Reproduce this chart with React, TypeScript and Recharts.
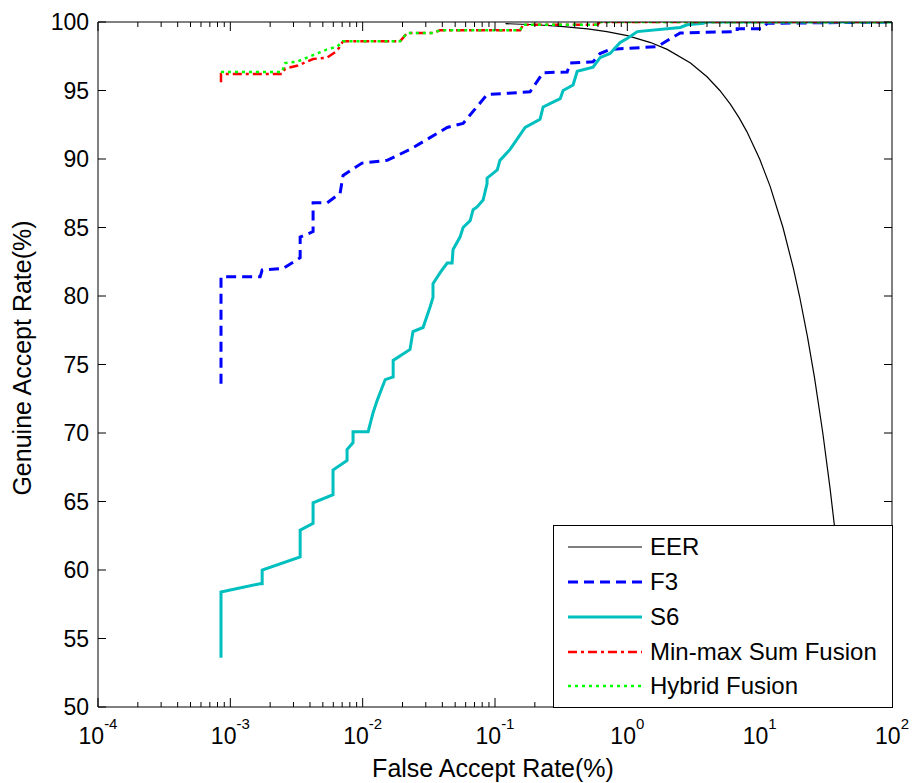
import { LineChart, Line, XAxis, YAxis, Legend } from "recharts"

// FAR (%) on a log axis, GAR (%) on a linear axis
const farMajorTicks = [1e-4, 1e-3, 1e-2, 1e-1, 1, 10, 100]
const farMinorSteps = [2, 3, 4, 5, 6, 7, 8, 9]
const garTicks = [50, 55, 60, 65, 70, 75, 80, 85, 90, 95, 100]

const seriesNames = ["EER", "F3", "S6", "Min-max Sum Fusion", "Hybrid Fusion"]

const eerFar = [0.12, 0.2, 0.3, 0.5, 0.7, 1, 1.5, 2, 3, 4, 5, 6, 7, 8, 10, 12, 15, 18, 20, 23, 26, 30, 34, 38, 42, 46, 50]
const eerGar = [99.88, 99.8, 99.7, 99.5, 99.3, 99, 98.5, 98, 97, 96, 95, 94, 93, 92, 90, 88, 85, 82, 80, 77, 74, 70, 66, 62, 58, 54, 50]

const f3Far = [0.00085, 0.00085, 0.00168, 0.00174, 0.0025, 0.00337, 0.00337, 0.00422, 0.00422, 0.00538, 0.00675, 0.00711, 0.00988, 0.0153, 0.0228, 0.0435, 0.0574, 0.0871, 0.184, 0.231, 0.351, 0.37, 0.551, 0.622, 0.741, 1.68, 2.22, 2.51, 6.76, 6.76, 10.4, 11.4, 100]
const f3Gar = [73.6, 81.4, 81.4, 81.9, 82.0, 82.8, 84.3, 84.7, 86.8, 86.8, 87.5, 88.8, 89.7, 89.9, 90.7, 92.3, 92.6, 94.7, 94.9, 96.3, 96.35, 97.0, 97.1, 97.7, 98.0, 98.2, 98.9, 99.2, 99.3, 99.5, 99.5, 99.9, 100]

const s6Far = [0.00085, 0.00085, 0.00167, 0.00174, 0.00174, 0.00337, 0.00337, 0.00422, 0.00422, 0.00597, 0.00597, 0.00762, 0.00762, 0.00846, 0.00846, 0.011, 0.012, 0.0129, 0.0148, 0.017, 0.017, 0.0228, 0.024, 0.0286, 0.0323, 0.034, 0.034, 0.0385, 0.0435, 0.0474, 0.0482, 0.0544, 0.0574, 0.0649, 0.0683, 0.0732, 0.0813, 0.0871, 0.0871, 0.104, 0.109, 0.13, 0.169, 0.219, 0.231, 0.311, 0.327, 0.389, 0.418, 0.551, 0.622, 0.741, 0.883, 0.997, 1.19, 2.51, 2.83, 3.74, 4.01, 100]
const s6Gar = [53.6, 58.4, 59.0, 59.0, 60.0, 60.95, 62.9, 63.4, 64.9, 65.5, 67.3, 68.0, 68.8, 69.3, 70.1, 70.1, 71.5, 72.4, 73.9, 74.1, 75.3, 76.1, 77.4, 77.7, 79.2, 79.9, 80.9, 81.7, 82.4, 82.4, 83.4, 84.3, 85.0, 85.5, 86.3, 86.5, 87.0, 88.2, 88.6, 89.2, 89.9, 90.7, 92.3, 92.9, 93.8, 94.4, 95.0, 95.4, 96.4, 96.7, 97.4, 97.7, 98.5, 98.8, 99.3, 99.6, 99.8, 99.9, 100, 100]

const minMaxFar = [0.00085, 0.00085, 0.00246, 0.00259, 0.00319, 0.00422, 0.00538, 0.00641, 0.00711, 0.0192, 0.0217, 0.034, 0.0385, 0.155, 0.163, 0.592, 0.622, 100]
const minMaxGar = [95.6, 96.2, 96.2, 96.6, 96.8, 97.3, 97.4, 97.9, 98.6, 98.6, 99.2, 99.2, 99.4, 99.4, 99.8, 99.8, 100, 100]

const hybridFar = [0.00085, 0.00246, 0.00259, 0.00319, 0.00538, 0.00641, 0.00711, 0.0192, 0.0217, 0.034, 0.0385, 0.155, 0.163, 0.592, 0.622, 100]
const hybridGar = [96.35, 96.35, 97.0, 97.1, 98.0, 98.2, 98.6, 98.6, 99.2, 99.2, 99.4, 99.4, 99.8, 99.8, 100, 100]

const zip = (far: number[], gar: number[]) => far.map((f, i) => ({ far: f, gar: gar[i] }))

const farTicks = [
  ...farMajorTicks,
  ...farMajorTicks.slice(0, -1).flatMap((d) => farMinorSteps.map((k) => k * d)),
].sort((a, b) => a - b)

const FONT = "'Liberation Sans', Arial, Helvetica, sans-serif"

const styles = [
  { stroke: "#000000", width: 1.2, dash: undefined },
  { stroke: "#0000ff", width: 3, dash: "10 6" },
  { stroke: "#00bfbf", width: 3, dash: undefined },
  { stroke: "#ff0000", width: 2.5, dash: "9 4 3 4" },
  { stroke: "#00ff00", width: 2.5, dash: "3 4" },
]

const isMajor = (v: number) => {
  const l = Math.log10(v)
  return Math.abs(l - Math.round(l)) < 1e-6
}

const BottomTick = (props: any) => {
  const { x, y, payload } = props
  const major = isMajor(payload.value)
  const exp = Math.round(Math.log10(payload.value))
  return (
    <g>
      <line x1={x} x2={x} y1={y} y2={y - (major ? 9 : 5)} stroke="#000" />
      {major && (
        <text x={x} y={y + 37} textAnchor="middle" fontSize={23} fontFamily={FONT} fill="#000">
          10
          <tspan dy={-15} fontSize={15}>
            {exp}
          </tspan>
        </text>
      )}
    </g>
  )
}

const TopTick = (props: any) => {
  const { x, y, payload } = props
  const major = isMajor(payload.value)
  return <line x1={x} x2={x} y1={y} y2={y + (major ? 9 : 5)} stroke="#000" />
}

const LeftTick = (props: any) => {
  const { x, y, payload } = props
  return (
    <g>
      <line x1={x} x2={x + 8} y1={y} y2={y} stroke="#000" />
      <text x={x - 9} y={y} dy={8} textAnchor="end" fontSize={23} fontFamily={FONT} fill="#000">
        {payload.value}
      </text>
    </g>
  )
}

const RightTick = (props: any) => {
  const { x, y } = props
  return <line x1={x} x2={x - 8} y1={y} y2={y} stroke="#000" />
}

const LegendBox = () => (
  <div
    style={{
      position: "relative",
      width: 340,
      height: 183,
      boxSizing: "border-box",
      border: "1px solid #000",
      background: "#fff",
      fontFamily: FONT,
      fontSize: 24,
      color: "#000",
    }}
  >
    {seriesNames.map((name, i) => (
      <div
        key={name}
        style={{ position: "absolute", left: 0, top: 4 + i * 34.75, height: 34.75, display: "flex", alignItems: "center" }}
      >
        <svg width={90} height={10} style={{ marginLeft: 14 }}>
          <line
            x1={0}
            x2={74}
            y1={5}
            y2={5}
            stroke={styles[i].stroke}
            strokeWidth={styles[i].width}
            strokeDasharray={styles[i].dash}
          />
        </svg>
        <span style={{ marginLeft: -8, whiteSpace: "nowrap" }}>{name}</span>
      </div>
    ))}
  </div>
)

const series = [
  zip(eerFar, eerGar),
  zip(f3Far, f3Gar),
  zip(s6Far, s6Gar),
  zip(minMaxFar, minMaxGar),
  zip(hybridFar, hybridGar),
]

export default function App() {
  return (
    <div style={{ position: "absolute", left: 0, top: 0, background: "#fff" }}>
      <LineChart width={912} height={783} margin={{ top: 0, right: 0, bottom: 0, left: 0 }} style={{ fontFamily: FONT }}>
        <XAxis
          dataKey="far"
          type="number"
          scale="log"
          domain={[1e-4, 100]}
          allowDataOverflow
          ticks={farTicks}
          interval={0}
          tickSize={0}
          tickMargin={0}
          tickLine={false}
          tick={<BottomTick />}
          height={76}
          axisLine={{ stroke: "#000" }}
        />
        <XAxis
          xAxisId="top"
          orientation="top"
          dataKey="far"
          type="number"
          scale="log"
          domain={[1e-4, 100]}
          allowDataOverflow
          ticks={farTicks}
          interval={0}
          tickSize={0}
          tickMargin={0}
          tickLine={false}
          tick={<TopTick />}
          height={22}
          axisLine={{ stroke: "#000" }}
        />
        <YAxis
          type="number"
          domain={[50, 100]}
          allowDataOverflow
          ticks={garTicks}
          interval={0}
          tickSize={0}
          tickMargin={0}
          tickLine={false}
          tick={<LeftTick />}
          width={98}
          axisLine={{ stroke: "#000" }}
        />
        <YAxis
          yAxisId="right"
          orientation="right"
          type="number"
          domain={[50, 100]}
          allowDataOverflow
          ticks={garTicks}
          interval={0}
          tickSize={0}
          tickMargin={0}
          tickLine={false}
          tick={<RightTick />}
          width={20}
          axisLine={{ stroke: "#000" }}
        />
        {series.map((data, i) => (
          <Line
            key={seriesNames[i]}
            name={seriesNames[i]}
            data={data}
            dataKey="gar"
            type="linear"
            stroke={styles[i].stroke}
            strokeWidth={styles[i].width}
            strokeDasharray={styles[i].dash}
            dot={false}
            activeDot={false}
            isAnimationActive={false}
          />
        ))}
        <Legend
          layout="vertical"
          align="center"
          verticalAlign="middle"
          content={<LegendBox />}
          wrapperStyle={{ left: 553, top: 525, width: 340, height: 183 }}
        />
        <text x={493} y={777} textAnchor="middle" fontSize={25} fontFamily={FONT} fill="#000">
          False Accept Rate(%)
        </text>
        <text
          x={31}
          y={358}
          textAnchor="middle"
          fontSize={25}
          fontFamily={FONT}
          fill="#000"
          transform="rotate(-90 31 358)"
        >
          Genuine Accept Rate(%)
        </text>
      </LineChart>
    </div>
  )
}
